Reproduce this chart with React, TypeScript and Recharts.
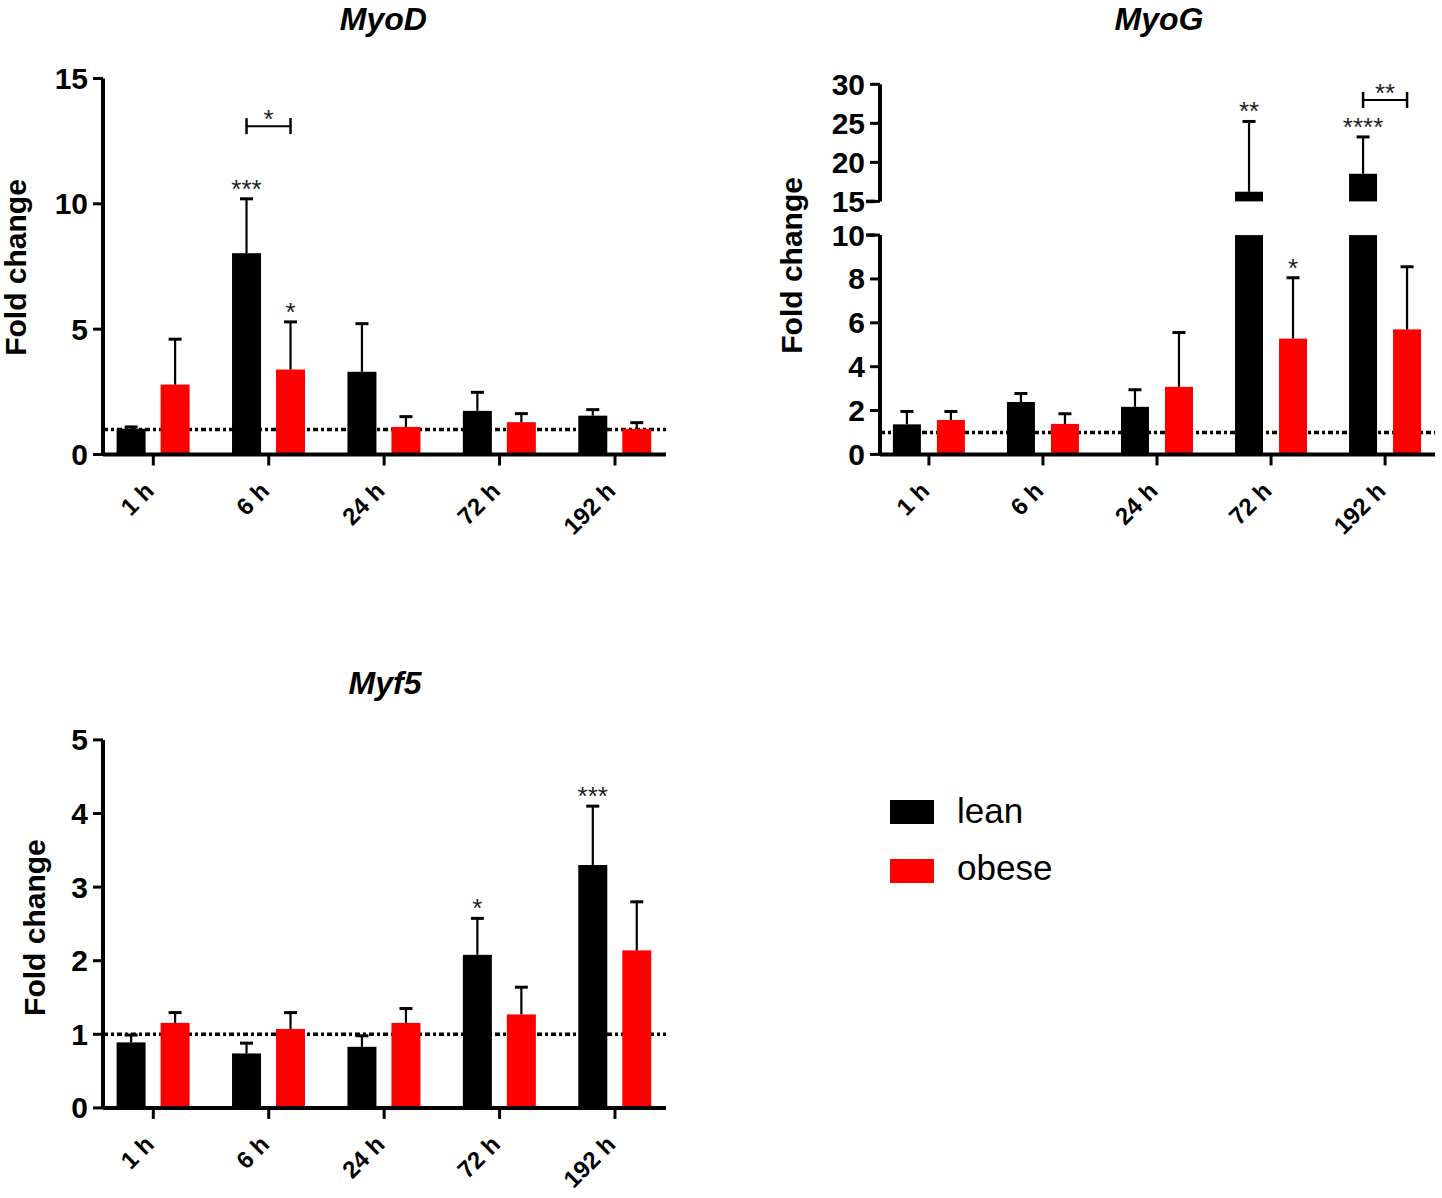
import React from "react";
import { BarChart, Bar, XAxis, YAxis, ReferenceLine } from "recharts";

const times = ["1 h", "6 h", "24 h", "72 h", "192 h"];
const groups = ["lean", "obese"];
const groupColors = ["#000000", "#ff0000"];

// MyoD
const myodLean = [1.03, 8.03, 3.3, 1.74, 1.55];
const myodLeanErr = [1.1, 10.2, 5.22, 2.48, 1.79];
const myodObese = [2.79, 3.39, 1.1, 1.29, 1.02];
const myodObeseErr = [4.6, 5.29, 1.51, 1.63, 1.27];
const myodLeanStars = ["", "***", "", "", ""];
const myodObeseStars = ["", "*", "", "", ""];
const myodBracket = [null, 13.1, null, null, null];
const myodBracketStars = ["", "*", "", "", ""];

// MyoG (broken axis: 0-10 below, 15-30 above)
const myogLean = [1.37, 2.39, 2.17, 16.24, 18.54];
const myogLeanErr = [1.96, 2.78, 2.95, 25.24, 23.26];
const myogObese = [1.57, 1.39, 3.08, 5.28, 5.7];
const myogObeseErr = [1.96, 1.85, 5.56, 8.05, 8.56];
const myogLeanStars = ["", "", "", "**", "****"];
const myogObeseStars = ["", "", "", "*", ""];
const myogBracket = [null, null, null, null, 28.0];
const myogBracketStars = ["", "", "", "", "**"];

// Myf5
const myf5Lean = [0.89, 0.74, 0.83, 2.08, 3.3];
const myf5LeanErr = [0.99, 0.88, 0.98, 2.575, 4.1];
const myf5Obese = [1.155, 1.073, 1.155, 1.27, 2.14];
const myf5ObeseErr = [1.295, 1.295, 1.35, 1.64, 2.8];
const myf5LeanStars = ["", "", "", "*", "***"];
const myf5ObeseStars = ["", "", "", "", ""];
const noBracket = [null, null, null, null, null];
const noStars = ["", "", "", "", ""];

const myodTicks = [0, 5, 10, 15];
const myogLowTicks = [0, 2, 4, 6, 8, 10];
const myogHighTicks = [15, 20, 25, 30];
const myf5Ticks = [0, 1, 2, 3, 4, 5];

const FONT = "'Liberation Sans', Arial, Helvetica, sans-serif";

function buildRows(
  lean: (number | null)[],
  leanErr: (number | null)[],
  obese: (number | null)[],
  obeseErr: (number | null)[],
  leanStars: string[],
  obeseStars: string[],
  bracket: (number | null)[],
  bracketStars: string[]
) {
  return times.map((time, i) => ({
    time,
    lean: lean[i],
    leanErr: leanErr[i],
    leanStar: leanStars[i],
    obese: obese[i],
    obeseErr: obeseErr[i],
    obeseStar: obeseStars[i],
    bracket: bracket[i],
    bracketStar: bracketStars[i],
  }));
}

const myodRows = buildRows(myodLean, myodLeanErr, myodObese, myodObeseErr, myodLeanStars, myodObeseStars, myodBracket, myodBracketStars);
const myogLowRows = buildRows(myogLean, myogLeanErr, myogObese, myogObeseErr, myogLeanStars, myogObeseStars, noBracket, noStars);
// upper segment only carries the bars that reach above the break
const myogHighRows = buildRows(
  myogLean.map((v) => (v > 15 ? v : null)),
  myogLeanErr,
  myogObese.map((v) => (v > 15 ? v : null)),
  myogObeseErr,
  myogLeanStars,
  myogObeseStars,
  myogBracket,
  myogBracketStars
);
const myf5Rows = buildRows(myf5Lean, myf5LeanErr, myf5Obese, myf5ObeseErr, myf5LeanStars, myf5ObeseStars, noBracket, noStars);

const STAR_SIZE = 26;

// bar + upward error bar + significance marks, all positioned from the bar's own geometry
function makeShape(key: "lean" | "obese", fill: string, base: number, top: number, step: number) {
  return (props: any) => {
    const { x, y, width, height, payload, background } = props;
    const value = payload ? payload[key] : null;
    if (value == null || !isFinite(height) || height <= 0) return <g />;
    const bottom = y + height;
    const ppu = height / (value - base);
    const yOf = (v: number) => bottom - (v - base) * ppu;
    const limit = background && isFinite(background.y) ? background.y : -Infinity;
    const rectY = Math.max(y, limit);
    const cx = x + width / 2;
    const parts: React.ReactNode[] = [
      <rect key="r" x={x} y={rectY} width={width} height={bottom - rectY} fill={fill} />,
    ];
    if (value <= top) {
      const err = payload[key + "Err"];
      if (err != null) {
        const ye = yOf(err);
        parts.push(<line key="e" x1={cx} x2={cx} y1={y} y2={ye} stroke="#000" strokeWidth={2.2} />);
        parts.push(<line key="c" x1={cx - 6.5} x2={cx + 6.5} y1={ye} y2={ye} stroke="#000" strokeWidth={3} />);
        const star = payload[key + "Star"];
        if (star) {
          parts.push(
            <text key="s" x={cx} y={ye - 16 + 0.575 * STAR_SIZE} textAnchor="middle" fontSize={STAR_SIZE} fontFamily={FONT} fill="#222">
              {star}
            </text>
          );
        }
      }
      if (key === "lean" && payload.bracket != null) {
        const yb = yOf(payload.bracket);
        const x2 = cx + step;
        parts.push(<line key="b" x1={cx} x2={x2} y1={yb} y2={yb} stroke="#000" strokeWidth={2} />);
        parts.push(<line key="b1" x1={cx} x2={cx} y1={yb - 8} y2={yb + 8} stroke="#000" strokeWidth={2.5} />);
        parts.push(<line key="b2" x1={x2} x2={x2} y1={yb - 8} y2={yb + 8} stroke="#000" strokeWidth={2.5} />);
        parts.push(
          <text key="bs" x={(cx + x2) / 2} y={yb - 13 + 0.575 * STAR_SIZE} textAnchor="middle" fontSize={STAR_SIZE} fontFamily={FONT} fill="#222">
            {payload.bracketStar}
          </text>
        );
      }
    }
    return <g>{parts}</g>;
  };
}

const XTick = (props: any) => {
  const { x, y, payload } = props;
  return (
    <g transform={`translate(${x + 2},${y + 25})`}>
      <text textAnchor="end" transform="rotate(-45)" fontSize={24} fontWeight="bold" fontFamily={FONT} fill="#000">
        {payload.value}
      </text>
    </g>
  );
};

// tick label; values at an axis break get a longer tick mark
const YTick = (props: any) => {
  const { x, y, payload, breaks } = props;
  const isBreak = breaks && breaks.includes(payload.value);
  return (
    <g>
      {isBreak && <line x1={x + 1} x2={x + 10} y1={y} y2={y} stroke="#000" strokeWidth={3.5} />}
      <text x={x} y={y} textAnchor="end" dominantBaseline="central" fontSize={30} fontWeight="bold" fontFamily={FONT} fill="#000">
        {payload.value}
      </text>
    </g>
  );
};

const axisLine = { stroke: "#000", strokeWidth: 4 };
const tickLine = { stroke: "#000", strokeWidth: 3 };
const emptyShape = () => <g />;

type PanelProps = {
  rows: any[];
  left: number;
  top: number;
  width: number;
  height: number;
  margin: { top: number; right: number; bottom: number; left: number };
  yWidth: number;
  domain: [number, number];
  ticks: number[];
  breaks?: number[];
  padding: { left: number; right: number };
  barSize: number;
  barGap: number;
  showX?: boolean;
  showRef?: boolean;
  clip?: boolean;
};

function Panel(p: PanelProps) {
  const step = p.barSize + p.barGap;
  const chartProps = { width: p.width, height: p.height, data: p.rows, margin: p.margin, barGap: p.barGap };
  return (
    <div style={{ position: "absolute", left: p.left, top: p.top, width: p.width, height: p.height }}>
      {p.showRef && (
        // dotted baseline drawn in its own layer so it stays behind the bars
        <div style={{ position: "absolute", left: 0, top: 0 }}>
          <BarChart {...chartProps}>
            <XAxis dataKey="time" interval={0} height={90} padding={p.padding} axisLine={false} tickLine={false} tick={false} />
            <YAxis
              type="number"
              width={p.yWidth}
              domain={p.domain}
              ticks={p.ticks}
              allowDataOverflow
              axisLine={false}
              tickLine={false}
              tick={false}
            />
            <Bar dataKey="lean" barSize={p.barSize} fill="none" isAnimationActive={false} shape={emptyShape} />
            <ReferenceLine y={1} stroke="#000" strokeWidth={3.5} strokeDasharray="5 3 3 3" />
          </BarChart>
        </div>
      )}
      <div style={{ position: "absolute", left: 0, top: 0 }}>
        <BarChart {...chartProps}>
          <XAxis
            dataKey="time"
            hide={!p.showX}
            interval={0}
            height={90}
            padding={p.padding}
            axisLine={axisLine}
            tickLine={tickLine}
            tickSize={11}
            tick={<XTick />}
          />
          <YAxis
            type="number"
            width={p.yWidth}
            domain={p.domain}
            ticks={p.ticks}
            interval={0}
            allowDataOverflow={p.clip}
            axisLine={axisLine}
            tickLine={tickLine}
            tickSize={10}
            tickMargin={5}
            tick={<YTick breaks={p.breaks} />}
          />
          <Bar
            dataKey="lean"
            barSize={p.barSize}
            fill={groupColors[0]}
            isAnimationActive={false}
            shape={makeShape("lean", groupColors[0], p.domain[0], p.domain[1], step)}
          />
          <Bar
            dataKey="obese"
            barSize={p.barSize}
            fill={groupColors[1]}
            isAnimationActive={false}
            shape={makeShape("obese", groupColors[1], p.domain[0], p.domain[1], step)}
          />
        </BarChart>
      </div>
    </div>
  );
}

export default function App() {
  const leftPad = { left: -7.4, right: -6.7 };
  const rightPad = { left: -8.1, right: -7.1 };
  return (
    <div style={{ position: "absolute", left: 0, top: 0, width: 1442, height: 1198, background: "#fff", overflow: "hidden" }}>
      <Panel
        rows={myodRows}
        left={0}
        top={0}
        width={700}
        height={560}
        margin={{ top: 78.5, right: 34, bottom: 15.5, left: 0 }}
        yWidth={103}
        domain={[0, 15]}
        ticks={myodTicks}
        padding={leftPad}
        barSize={29}
        barGap={15}
        showX
        showRef
      />
      <Panel
        rows={myogLowRows}
        left={720}
        top={0}
        width={722}
        height={560}
        margin={{ top: 235.1, right: 7, bottom: 15.6, left: 0 }}
        yWidth={160}
        domain={[0, 10]}
        ticks={myogLowTicks}
        breaks={[10]}
        padding={rightPad}
        barSize={28}
        barGap={16}
        showX
        showRef
        clip
      />
      <Panel
        rows={myogHighRows}
        left={720}
        top={0}
        width={722}
        height={230}
        margin={{ top: 84.3, right: 7, bottom: 28.6, left: 0 }}
        yWidth={160}
        domain={[15, 30]}
        ticks={myogHighTicks}
        breaks={[15]}
        padding={rightPad}
        barSize={28}
        barGap={16}
      />
      <Panel
        rows={myf5Rows}
        left={0}
        top={650}
        width={700}
        height={548}
        margin={{ top: 89.9, right: 34, bottom: 0.1, left: 0 }}
        yWidth={103}
        domain={[0, 5]}
        ticks={myf5Ticks}
        padding={leftPad}
        barSize={29}
        barGap={15}
        showX
        showRef
      />
      <svg width={1442} height={1198} style={{ position: "absolute", left: 0, top: 0, pointerEvents: "none" }}>
        <g fontFamily={FONT} fill="#000">
          <text x={383.4} y={29.5} textAnchor="middle" fontSize={32} fontWeight="bold" fontStyle="italic">MyoD</text>
          <text x={1159} y={30} textAnchor="middle" fontSize={32} fontWeight="bold" fontStyle="italic">MyoG</text>
          <text x={385} y={693.5} textAnchor="middle" fontSize={32} fontWeight="bold" fontStyle="italic">Myf5</text>
          <text transform="translate(26,267.5) rotate(-90)" textAnchor="middle" fontSize={30} fontWeight="bold">Fold change</text>
          <text transform="translate(802,265.4) rotate(-90)" textAnchor="middle" fontSize={30} fontWeight="bold">Fold change</text>
          <text transform="translate(44.8,927.6) rotate(-90)" textAnchor="middle" fontSize={30} fontWeight="bold">Fold change</text>
          {groups.map((g, i) => (
            <g key={g}>
              <rect x={890} y={800 + i * 59} width={44} height={24} fill={groupColors[i]} />
              <text x={957} y={823 + i * 57} fontSize={35}>{g}</text>
            </g>
          ))}
        </g>
      </svg>
    </div>
  );
}
